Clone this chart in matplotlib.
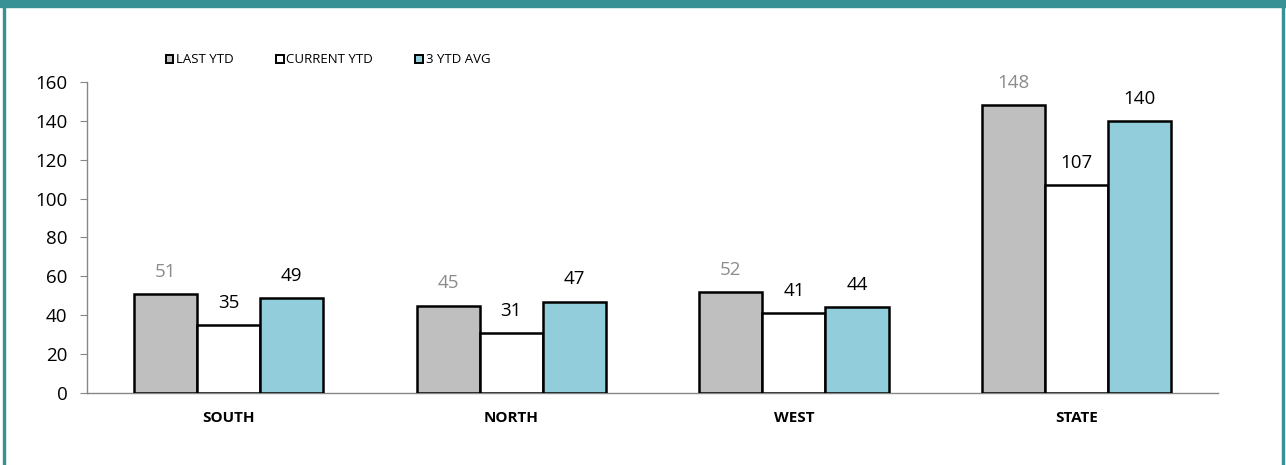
import numpy as np
import matplotlib
matplotlib.use('Agg')
import matplotlib.pyplot as plt
from matplotlib.patches import Rectangle

plt.rcParams['font.family'] = ['Open Sans', 'DejaVu Sans']

regions = ['SOUTH', 'NORTH', 'WEST', 'STATE']
series = ['LAST YTD', 'CURRENT YTD', '3 YTD AVG']
last_ytd = [51, 45, 52, 148]
current_ytd = [35, 31, 41, 107]
avg_3ytd = [49, 47, 44, 140]

colors = ['#BFBFBF', '#FFFFFF', '#92CDDC']
label_colors = ['#8C8C8C', '#000000', '#000000']

fig = plt.figure(figsize=(12.86, 4.65), dpi=100)
ax = fig.add_axes([0.0677, 0.1548, 0.8795, 0.6689])

x = np.arange(len(regions))
bar_width = 0.223
offsets = [-bar_width, 0, bar_width]

for vals, name, col, lcol, off in zip([last_ytd, current_ytd, avg_3ytd], series,
                                      colors, label_colors, offsets):
    bars = ax.bar(x + off, vals, width=bar_width, color=col, edgecolor='black',
                  linewidth=1.8, label=name, zorder=3)
    for b, v in zip(bars, vals):
        ax.annotate(f'{v}', (b.get_x() + b.get_width() / 2, v), xytext=(0, 9.5),
                    textcoords='offset points', ha='center', va='bottom',
                    fontsize=13.5, color=lcol)

ax.set_xlim(-0.5, len(regions) - 0.5)
ax.set_ylim(0, 160)
ax.set_yticks(range(0, 161, 20))
ax.set_xticks(x)
ax.set_xticklabels(regions, fontsize=11, fontweight='bold')
ax.tick_params(axis='x', length=0, pad=13)
ax.tick_params(axis='y', labelsize=13.5, length=5, color='#868686', pad=9)
for s in ['top', 'right']:
    ax.spines[s].set_visible(False)
for s in ['left', 'bottom']:
    ax.spines[s].set_color('#868686')
    ax.spines[s].set_linewidth(1)

leg = ax.legend(loc='center left', bbox_to_anchor=(0.1287, 0.871), bbox_transform=fig.transFigure,
                ncol=3, frameon=False, fontsize=9.5, handlelength=0.6, handleheight=0.6,
                handletextpad=0.2, columnspacing=3.2, borderpad=0, borderaxespad=0)
for h in leg.legend_handles:
    h.set_linewidth(1.4)

# frame around the chart
fig.patches.append(Rectangle((0, 1 - 7 / 465), 1, 7 / 465, transform=fig.transFigure,
                             color='#379195', zorder=10))
fig.patches.append(Rectangle((3 / 1286, 0), 2 / 1286, 1, transform=fig.transFigure,
                             color='#379195', zorder=10))
fig.patches.append(Rectangle((1 - 4 / 1286, 0), 2 / 1286, 1, transform=fig.transFigure,
                             color='#379195', zorder=10))

fig.savefig('out.png', dpi=100)
